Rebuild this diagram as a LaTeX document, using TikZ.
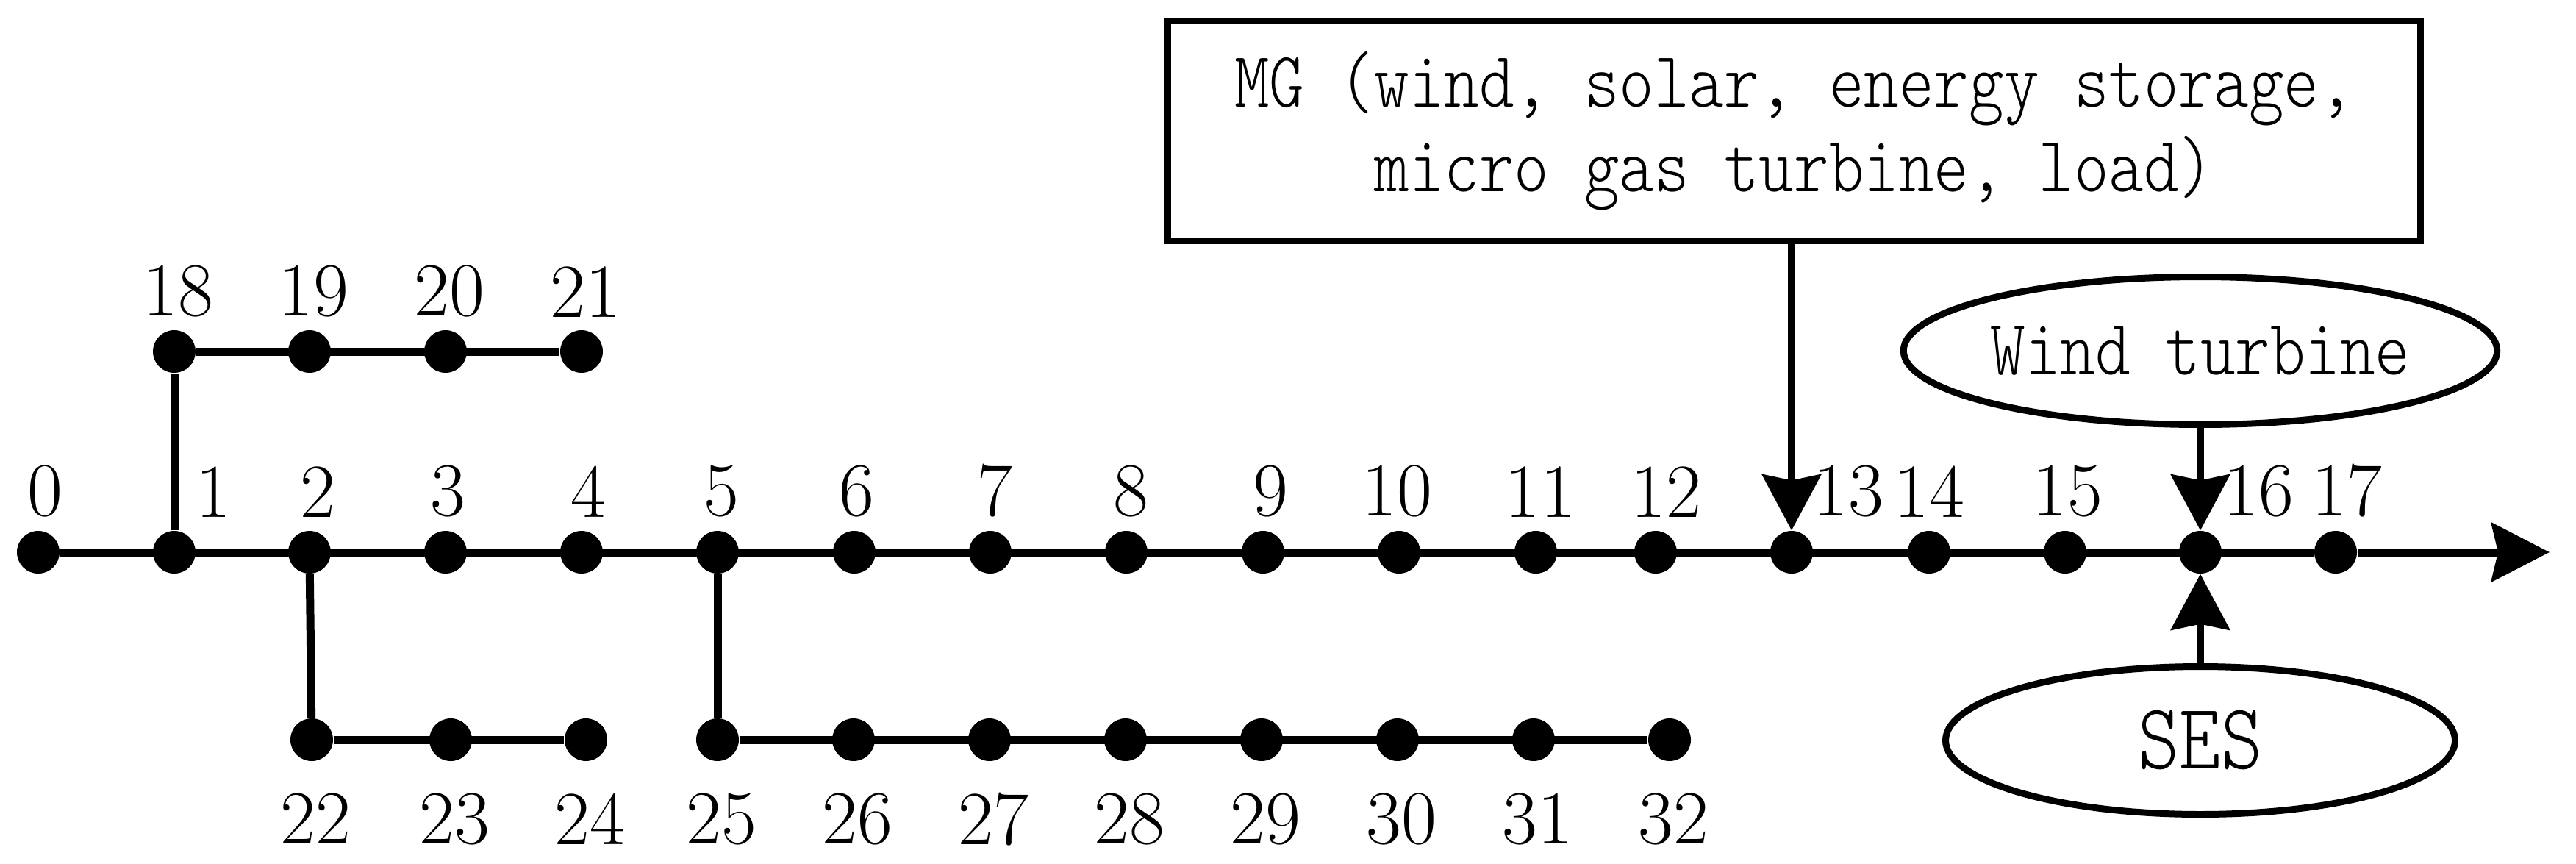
\documentclass[tikz,border=0pt]{standalone}
\usepackage{fontspec}
\usetikzlibrary{arrows.meta,shapes.geometric}
\newfontfamily\monofont[FakeStretch=0.84]{lmmonolt10-regular.otf}

\tikzset{
  bus/.style={circle,fill,inner sep=0pt,minimum size=0.58cm},
  num/.style={inner sep=0pt,font=\fontsize{29.6}{30}\selectfont},
  feeder/.style={line width=0.11cm},
  arr/.style={-{Stealth[length=0.76cm,width=0.8cm,inset=0.08cm]}},
  feed/.style={line width=0.095cm,arr},
  src/.style={ellipse,draw,line width=0.09cm,inner sep=0pt,minimum width=6.77cm,minimum height=2.01cm,font=\monofont\fontsize{30.7}{32.7}\selectfont},
}

\begin{document}
\begin{tikzpicture}
  \useasboundingbox (-0.52,-4.23) rectangle (34.52,7.51);
  % main feeder 0--17
  \foreach \i/\x/\dx in {0/0/0.09,1/1.85/0.53,2/3.69/0.11,3/5.54/0.03,4/7.39/0.09,
      5/9.24/0.05,6/11.10/0.03,7/12.95/0.06,8/14.80/0.06,9/16.66/0.1,10/18.51/-0.03,
      11/20.37/0.06,12/22.00/0.14,13/23.85/0.77,14/25.72/0,15/27.57/0.03,
      16/29.41/0.79,17/31.25/0.15}
    \node[bus,label={[num,xshift=\dx cm,yshift=0.17cm]above:\i}] (n\i) at (\x,0) {};
  % laterals
  \foreach \i/\x in {18/1.85,19/3.69,20/5.54,21/7.39}
    \node[bus,label={[num,xshift=0.05cm,yshift=0.16cm]above:\i}] (n\i) at (\x,2.73) {};
  \foreach \i/\x in {22/3.72,23/5.61,24/7.45,25/9.24,26/11.09,27/12.94,28/14.79,
      29/16.64,30/18.49,31/20.34,32/22.19}
    \node[bus,label={[num,xshift=0.05cm,yshift=-0.42cm]below:\i}] (n\i) at (\x,-2.55) {};
  \coordinate (end) at (34.16,0);

  \draw[feeder] (n0) -- (n17);
  \draw[feeder,-{Stealth[length=0.79cm,width=0.8cm,inset=0.09cm]}] (n17) -- (end);
  \draw[feeder] (n1) -- (n18);
  \draw[feeder] (n18) -- (n21);
  \draw[feeder] (n2) -- (n22);
  \draw[feeder] (n22) -- (n24);
  \draw[feeder] (n5) -- (n25);
  \draw[feeder] (n25) -- (n32);

  % sources
  \node[draw,line width=0.09cm,minimum width=17.04cm,minimum height=2.99cm,align=center,
    font=\monofont\fontsize{30.7}{32.7}\selectfont] (mg) at (23.885,5.73)
    {MG (wind, solar, energy storage,\\micro gas turbine, load)};
  \node[src] (wt) at (29.41,2.74) {Wind turbine};
  \node[src,minimum width=6.93cm,font=\monofont\fontsize{36.3}{38}\selectfont] (ses) at (29.41,-2.56) {SES};

  \draw[feed] (mg.south -| n13) -- (n13);
  \draw[feed] (wt) -- (n16);
  \draw[feed] (ses) -- (n16);
\end{tikzpicture}
\end{document}
